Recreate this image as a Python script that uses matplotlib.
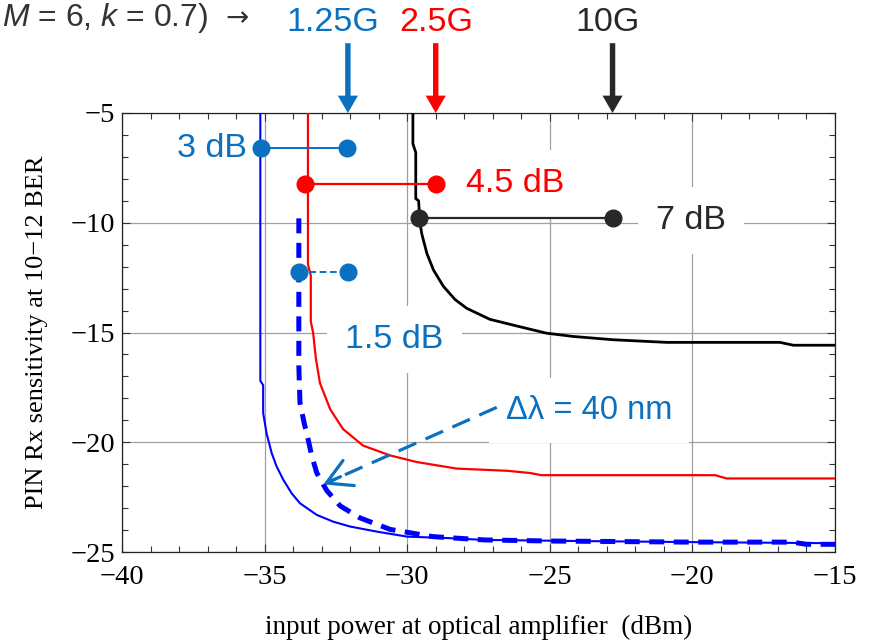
import matplotlib
matplotlib.use("Agg")
import matplotlib.pyplot as plt
from matplotlib.ticker import MultipleLocator

plt.rcParams['mathtext.fontset'] = 'custom'
plt.rcParams['mathtext.it'] = 'Liberation Sans:italic'
plt.rcParams['mathtext.rm'] = 'Liberation Sans'

# ---------------- data ----------------
blue_x = [-35.15, -35.15, -35.05, -35.05, -34.93, -34.75, -34.58, -34.34, -34.05, -33.76,
          -33.17, -32.59, -32.0, -31.07, -30.0, -28.5, -27.3, -24.0, -20.0, -15.0]
blue_y = [-5.0, -17.2, -17.4, -18.67, -19.6, -20.5, -21.1, -21.72, -22.33, -22.78,
          -23.31, -23.62, -23.84, -24.07, -24.3, -24.37, -24.45, -24.5, -24.55, -24.6]

bdash_x = [-33.8, -33.8, -33.76, -33.6, -33.52, -33.35, -33.17, -32.82, -32.35, -31.65,
           -30.6, -29.1, -27.3, -25.0, -20.0, -16.5, -16.0, -15.0]
bdash_y = [-9.8, -16.5, -18.2, -19.2, -19.6, -20.6, -21.4, -22.2, -22.9, -23.45,
           -23.97, -24.3, -24.45, -24.5, -24.55, -24.55, -24.65, -24.65]

red_x = [-33.48, -33.48, -33.38, -33.38, -33.3, -33.2, -33.06, -32.7, -32.25, -31.55,
         -30.6, -29.67, -28.27, -26.5, -25.7, -25.3, -19.2, -18.8, -15.0]
red_y = [-5.0, -11.9, -12.4, -14.5, -15.0, -16.2, -17.3, -18.5, -19.4, -20.15,
         -20.6, -20.9, -21.2, -21.3, -21.4, -21.5, -21.5, -21.65, -21.65]

black_x = [-29.8, -29.8, -29.7, -29.7, -29.6, -29.55, -29.49, -29.31, -29.08, -28.73,
           -28.32, -27.91, -27.1, -26.17, -25.12, -24.18, -22.78, -20.9, -16.93, -16.46, -15.0]
black_y = [-5.0, -6.4, -6.8, -8.9, -9.0, -10.0, -10.5, -11.4, -12.15, -12.9,
           -13.5, -13.9, -14.4, -14.7, -15.03, -15.18, -15.33, -15.45, -15.45, -15.58, -15.58]

gap_labels = ['3 dB', '4.5 dB', '7 dB', '1.5 dB']
gap_x0 = [-35.12, -33.58, -29.59, -33.79]
gap_x1 = [-32.1, -28.99, -22.78, -32.08]
gap_y = [-6.6, -8.23, -9.78, -12.25]

rates = ['1.25G', '2.5G', '10G']
rate_x = [-32.08, -29.0, -22.8]

xticks = [-40, -35, -30, -25, -20, -15]
yticks = [-25, -20, -15, -10, -5]

# ---------------- style ----------------
ABLUE = '#0a70c0'
ARED = '#ff0000'
ABLK = '#282828'
SANS = ['Liberation Sans', 'DejaVu Sans']
SERIF = ['Liberation Serif', 'DejaVu Serif']
FS = 24.5

fig = plt.figure(figsize=(8.71, 6.44), dpi=100)
ax = fig.add_axes([122/871, 1-552/644, (835-122)/871, (552-113)/644])
ax.set_xlim(-40, -15)
ax.set_ylim(-25, -5)
ax.set_axisbelow(True)
ax.grid(True, which='major', color='#a0a0a0', lw=0.9)
ax.set_xticks(xticks)
ax.set_yticks(yticks)
ax.xaxis.set_minor_locator(MultipleLocator(1))
ax.yaxis.set_minor_locator(MultipleLocator(1))
ax.tick_params(which='both', direction='in', top=True, right=True, width=0.8, color='#333333')
ax.tick_params(which='major', length=6)
ax.tick_params(which='minor', length=4.5)
ax.tick_params(axis='x', pad=9)
ax.tick_params(axis='y', pad=5)
for lab in ax.get_xticklabels() + ax.get_yticklabels():
    lab.set_fontfamily(SERIF)
    lab.set_fontsize(20.5)
for s in ax.spines.values():
    s.set_linewidth(0.9)
    s.set_color('#222222')

ax.set_xlabel('input power at optical amplifier  (dBm)', family=SERIF, fontsize=19.5, labelpad=18)
ax.set_ylabel('PIN Rx sensitivity at 10\u221212 BER', family=SERIF, fontsize=19, labelpad=16)

# curves
ax.plot(blue_x, blue_y, color='#0000ff', lw=1.5, zorder=3)
ax.plot(bdash_x, bdash_y, color='#0000ff', lw=3.6, dashes=(3.0, 1.9), zorder=3)
ax.plot(red_x, red_y, color='#ff0000', lw=1.6, zorder=3)
ax.plot(black_x, black_y, color='#000000', lw=2.0, zorder=3)

# gap markers
gap_colors = [ABLUE, ARED, ABLK, ABLUE]
gap_styles = ['-', '-', '-', (0, (3.5, 1.8))]
gap_lw = [1.4, 1.6, 1.6, 1.4]
for lab, x0, x1, y, c, ls, lw in zip(gap_labels, gap_x0, gap_x1, gap_y, gap_colors, gap_styles, gap_lw):
    ax.plot([x0, x1], [y, y], color=c, lw=lw, linestyle=ls, zorder=4)
    ax.plot([x0, x1], [y, y], 'o', color=c, ms=12, zorder=5)

box = dict(facecolor='white', edgecolor='none', pad=13)
ax.text(gap_x0[0] - 0.5, gap_y[0], gap_labels[0], color=ABLUE, family=SANS, fontsize=FS,
        ha='right', va='center', zorder=2)
ax.text(gap_x1[1] + 1.05, gap_y[1], gap_labels[1], color=ARED, family=SANS, fontsize=FS,
        ha='left', va='center', bbox=box, zorder=2)
ax.text(gap_x1[2] + 1.5, gap_y[2] - 0.1, gap_labels[2], color=ABLK, family=SANS, fontsize=FS,
        ha='left', va='center', bbox=box, zorder=2)
ax.text(-30.45, -15.3, gap_labels[3], color=ABLUE, family=SANS, fontsize=FS,
        ha='center', va='center', bbox=box, zorder=2)

# delta lambda annotation
ax.text(-26.55, -18.55, '\u0394\u03bb = 40 nm', color=ABLUE, family=SANS, fontsize=23.5,
        ha='left', va='center', bbox=dict(facecolor='white', edgecolor='none', pad=12), zorder=2)
tail = (-26.86, -18.41)
tip = (-32.94, -21.92)
ax.plot([tail[0], tip[0] + 0.12], [tail[1], tip[1] + 0.07], color=ABLUE, lw=2.3,
        dashes=(6, 3.2), zorder=4)
ax.annotate('', xy=tip, xytext=(tip[0] + 0.6, tip[1] + 0.35),
            arrowprops=dict(arrowstyle='->,head_length=0.8,head_width=0.45', color=ABLUE,
                            lw=2.3, shrinkA=0, shrinkB=0, mutation_scale=22), zorder=4)

# rate arrows at top
rate_colors = [ABLUE, ARED, ABLK]
rate_text_dx = [-0.54, 0.0, -0.18]
for r, x, c, dx in zip(rates, rate_x, rate_colors, rate_text_dx):
    ax.annotate('', xy=(x, 1.0), xytext=(x, 1.159), xycoords=('data', 'axes fraction'),
                textcoords=('data', 'axes fraction'), annotation_clip=False,
                arrowprops=dict(arrowstyle='simple,head_width=14.5,head_length=12.5,tail_width=3.9',
                                color=c, lw=0, shrinkA=0, shrinkB=0, mutation_scale=1))
    ax.text(x + dx, 1.207, r, color=c, family=SANS, fontsize=FS, ha='center', va='center',
            transform=ax.get_xaxis_transform(), clip_on=False)

fig.text(208/871, 1 - 26/644, '$\\mathit{M}$ = 6, $\\mathit{k}$ = 0.7)', color='#333333',
         family=SANS, fontsize=23, ha='right', va='baseline')
fig.text(249/871, 1 - 26/644, '\u2192', color='#333333',
         family=['DejaVu Sans'], fontsize=20, ha='right', va='baseline')

fig.savefig('out.png', dpi=100)
